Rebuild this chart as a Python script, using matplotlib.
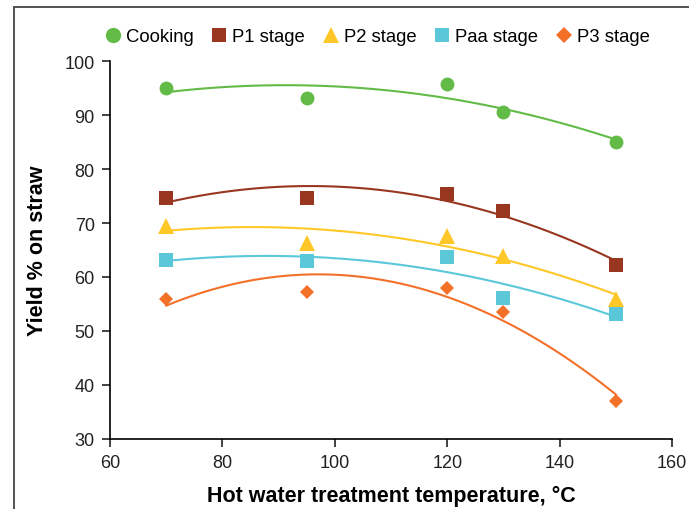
import numpy as np
import matplotlib
matplotlib.use("Agg")
import matplotlib.pyplot as plt
from matplotlib.patches import Rectangle

plt.rcParams['font.family'] = ['Liberation Sans', 'DejaVu Sans']

# hot water treatment temperature, deg C
temps = [70, 95, 120, 130, 150]

# yield % on straw for each stage
cooking = [95.0, 93.1, 95.8, 90.5, 85.0]
p1 = [74.6, 74.6, 75.4, 72.2, 62.2]
p2 = [69.5, 66.3, 67.6, 63.9, 55.9]
paa = [63.1, 63.0, 63.7, 56.1, 53.1]
p3 = [55.9, 57.2, 58.0, 53.5, 37.0]

series = [
    ("Cooking", cooking, "#62bb46", "o", 10),
    ("P1 stage", p1, "#983620", "s", 9.5),
    ("P2 stage", p2, "#ffc828", "^", 11),
    ("Paa stage", paa, "#5bc8da", "s", 9.5),
    ("P3 stage", p3, "#f37029", "D", 7.5),
]

fig = plt.figure(figsize=(6.89, 5.10), dpi=100)
ax = fig.add_axes([110 / 689, 70 / 510, 562 / 689, 378 / 510])

# frame around the figure (cropped at right and bottom)
fig.patches.append(Rectangle((14 / 689, -0.1), 1.2, 1.1 - 8 / 510,
                             transform=fig.transFigure, fill=False,
                             edgecolor="#444444", linewidth=1.3))

x = np.array(temps, dtype=float)
xs = np.linspace(70, 150, 200)
handles = []
for name, vals, col, mk, ms in series:
    # second order trendline through the points
    coef = np.polyfit(x, vals, 2)
    ax.plot(xs, np.polyval(coef, xs), color=col, lw=1.5, zorder=2)
    h, = ax.plot(x, vals, linestyle="none", marker=mk, color=col,
                 markersize=ms, markeredgewidth=0, zorder=3, label=name)
    handles.append(h)

ax.set_xlim(60, 160)
ax.set_ylim(30, 100)
ax.set_xticks(range(60, 161, 20))
ax.set_yticks(range(30, 101, 10))
ax.spines['top'].set_visible(False)
ax.spines['right'].set_visible(False)
for s in ['left', 'bottom']:
    ax.spines[s].set_linewidth(1.2)
ax.tick_params(direction='out', length=6, width=1.2, labelsize=13,
               colors="#222222", pad=5)

ax.set_xlabel("Hot water treatment temperature, °C", fontsize=15.5,
              fontweight='bold', labelpad=10)
ax.set_ylabel("Yield % on straw", fontsize=15.5, fontweight='bold',
              labelpad=12)

fig.legend(handles=handles, loc='upper center', ncol=5, frameon=False,
           bbox_to_anchor=(0.548, 0.975), fontsize=13.3, handlelength=0.8,
           handletextpad=0.3, columnspacing=1.0, markerscale=1.1)

fig.savefig("out.png", dpi=100)
